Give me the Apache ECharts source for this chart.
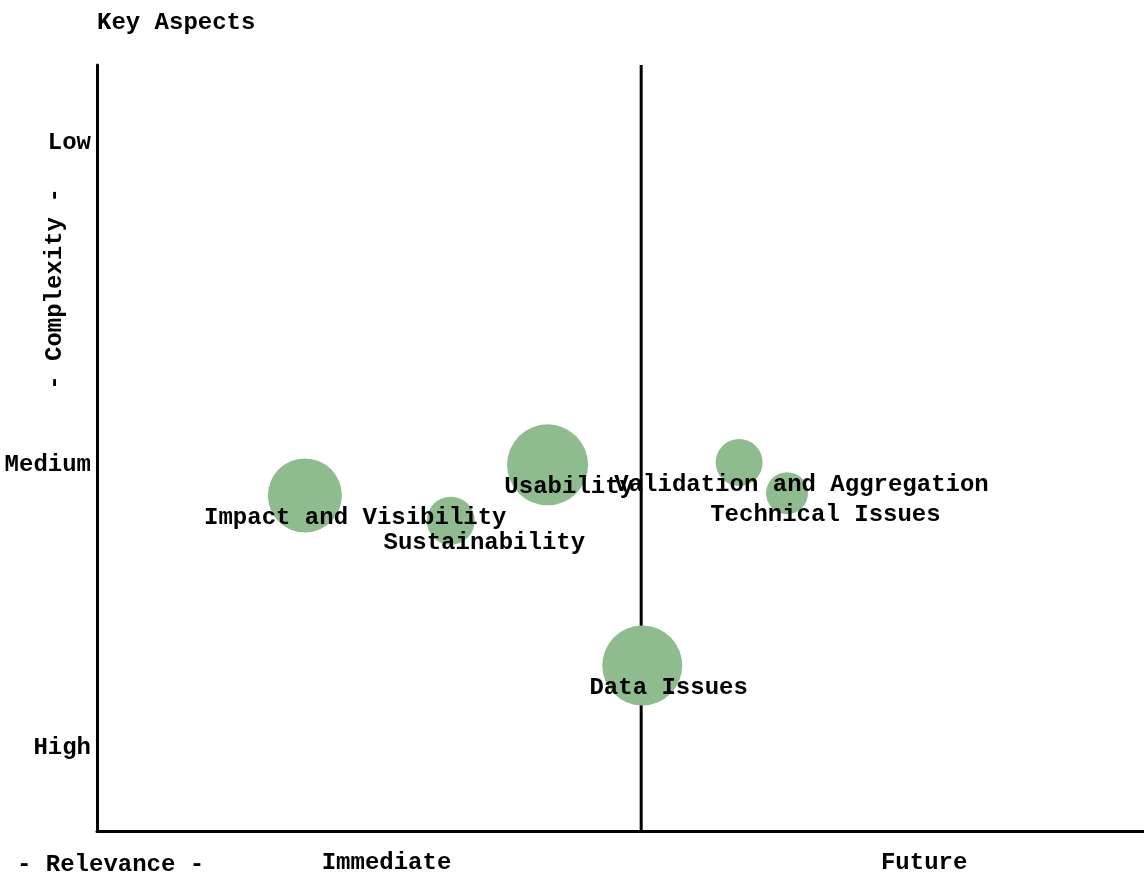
<!DOCTYPE html>
<html>
<head>
<meta charset="utf-8">
<title>Key Aspects</title>
<script src="https://cdn.jsdelivr.net/npm/echarts@6/dist/echarts.min.js"></script>
<style>
  html, body { margin: 0; padding: 0; background: #ffffff; }
  #chart { width: 1144px; height: 875px; }
</style>
</head>
<body>
<div id="chart"></div>
<script>
// Aspects placed by relevance (x) and complexity (y); bubble size shows weight.
const aspects = ['Impact and Visibility', 'Sustainability', 'Usability',
  'Validation and Aggregation', 'Technical Issues', 'Data Issues'];
const relevance = [19.1, 32.5, 41.4, 59.0, 63.4, 50.1];
const complexity = [43.8, 40.5, 47.8, 48.1, 44.1, 21.6];
const weight = [74, 48, 81, 47, 42, 80];

// Quadrant divider between immediate and future relevance.
const divider = 50;

const xTickValues = [26.6, 76];
const xTickLabels = ['Immediate', 'Future'];
const yTickValues = [89.8, 47.8, 10.8];
const yTickLabels = ['Low', 'Medium', 'High'];

// The relevance scale runs on past the right edge of the page.
const xVisibleMax = 96.2;

const FONT = 'Liberation Mono';
const FONT_SIZE = 24;
const FONT_WEIGHT = 'bold';

const chart = echarts.init(document.getElementById('chart'), null, { renderer: 'canvas' });

const bubbles = aspects.map((name, i) => ({
  name: name,
  value: [relevance[i], complexity[i], weight[i]],
  label: { offset: [name.length * 2.4, 22] }
}));

const textFont = FONT_WEIGHT + ' ' + FONT_SIZE + 'px "' + FONT + '"';

chart.setOption({
  animation: false,
  backgroundColor: '#ffffff',
  textStyle: { fontFamily: FONT, fontSize: FONT_SIZE, fontWeight: FONT_WEIGHT, color: '#000000' },
  title: {
    text: 'Key Aspects',
    left: 92,
    top: 6,
    textStyle: { fontFamily: FONT, fontSize: FONT_SIZE, fontWeight: FONT_WEIGHT, color: '#000000' }
  },
  grid: { left: 97, right: 0, top: 65, bottom: 40, containLabel: false },
  xAxis: {
    type: 'value',
    min: 0,
    max: xVisibleMax,
    axisLine: { show: true, onZero: false, lineStyle: { color: '#000000', width: 3 } },
    axisTick: { show: false },
    splitLine: { show: false },
    axisLabel: {
      customValues: xTickValues,
      formatter: v => xTickLabels[xTickValues.indexOf(v)] || '',
      margin: 20,
      color: '#000000',
      fontFamily: FONT,
      fontSize: FONT_SIZE,
      fontWeight: FONT_WEIGHT
    }
  },
  yAxis: {
    type: 'value',
    min: 0,
    max: 100,
    axisLine: { show: true, onZero: false, lineStyle: { color: '#000000', width: 3 } },
    axisTick: { show: false },
    splitLine: { show: false },
    axisLabel: {
      customValues: yTickValues,
      formatter: v => yTickLabels[yTickValues.indexOf(v)] || '',
      margin: 6,
      color: '#000000',
      fontFamily: FONT,
      fontSize: FONT_SIZE,
      fontWeight: FONT_WEIGHT
    }
  },
  graphic: [
    {
      type: 'text',
      left: 17,
      top: 853,
      style: { text: '- Relevance -', fill: '#000000', font: textFont }
    },
    {
      type: 'text',
      x: 55,
      y: 289,
      rotation: Math.PI / 2,
      style: {
        text: '- Complexity -',
        fill: '#000000',
        font: textFont,
        align: 'center',
        verticalAlign: 'middle'
      }
    }
  ],
  series: [
    {
      type: 'line',
      silent: true,
      z: 1,
      symbol: 'none',
      lineStyle: { color: '#000000', width: 3 },
      data: [[divider, 0], [divider, 100]]
    },
    {
      type: 'scatter',
      z: 2,
      data: bubbles,
      symbolSize: v => v[2],
      itemStyle: { color: '#8fbc8f', opacity: 1 },
      label: {
        show: true,
        position: 'inside',
        formatter: p => p.name,
        color: '#000000',
        fontFamily: FONT,
        fontSize: FONT_SIZE,
        fontWeight: FONT_WEIGHT
      }
    }
  ]
});
</script>
</body>
</html>
